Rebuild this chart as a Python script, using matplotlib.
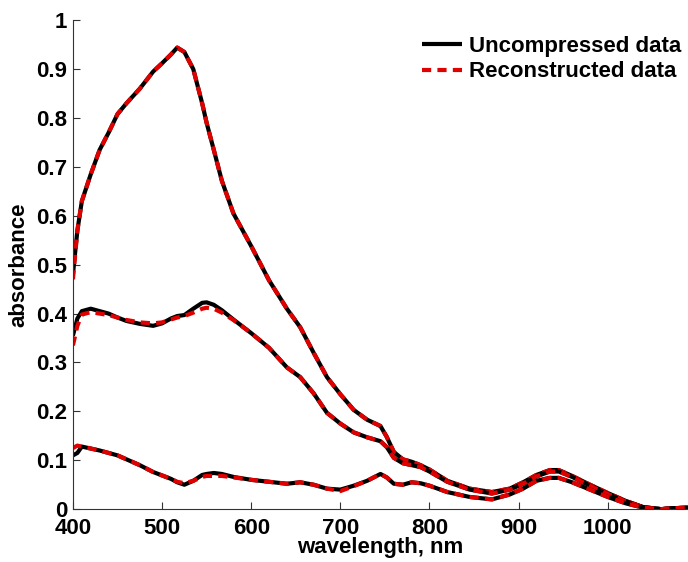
import numpy as np
import matplotlib
matplotlib.use('Agg')
import matplotlib.pyplot as plt

plt.rcParams['font.family'] = ['Liberation Sans', 'DejaVu Sans']
plt.rcParams['font.weight'] = 'bold'

# wavelength grid (nm)
wl = [400, 405, 410, 420, 430, 440, 450, 460, 475, 490, 500, 510, 517, 525,
      535, 545, 550, 558, 567, 580, 600, 620, 640, 655, 670, 685, 700, 715,
      730, 745, 752, 760, 770, 780, 790, 800, 820, 845, 870, 890, 905, 920,
      935, 945, 960, 980, 1000, 1020, 1040, 1060, 1075, 1090]

# uncompressed spectra
orig_a = [0.48, 0.57, 0.63, 0.685, 0.735, 0.77, 0.808, 0.83, 0.86, 0.895, 0.912, 0.93, 0.944, 0.935,
          0.9, 0.83, 0.79, 0.735, 0.672, 0.605, 0.538, 0.468, 0.41, 0.372, 0.32, 0.27, 0.235, 0.203,
          0.183, 0.17, 0.148, 0.117, 0.102, 0.097, 0.09, 0.081, 0.058, 0.042, 0.035, 0.042, 0.055, 0.07,
          0.08, 0.08, 0.068, 0.05, 0.033, 0.017, 0.004, 0.0, 0.002, 0.003]
orig_b = [0.355, 0.39, 0.405, 0.41, 0.405, 0.40, 0.392, 0.385, 0.379, 0.375, 0.38, 0.39, 0.395, 0.397,
          0.41, 0.422, 0.423, 0.418, 0.407, 0.388, 0.36, 0.33, 0.29, 0.27, 0.237, 0.197, 0.175, 0.157,
          0.147, 0.139, 0.127, 0.105, 0.094, 0.09, 0.086, 0.077, 0.056, 0.04, 0.032, 0.04, 0.052, 0.067,
          0.077, 0.077, 0.066, 0.048, 0.031, 0.016, 0.004, 0.0, 0.002, 0.003]
orig_c = [0.11, 0.115, 0.128, 0.124, 0.12, 0.115, 0.11, 0.102, 0.09, 0.076, 0.069, 0.062, 0.055, 0.05,
          0.058, 0.07, 0.072, 0.074, 0.072, 0.066, 0.06, 0.056, 0.052, 0.055, 0.05, 0.042, 0.04, 0.048,
          0.058, 0.072, 0.065, 0.052, 0.05, 0.055, 0.053, 0.048, 0.035, 0.025, 0.02, 0.03, 0.042, 0.058,
          0.064, 0.064, 0.055, 0.04, 0.025, 0.012, 0.003, 0.0, 0.002, 0.003]

# reconstructed spectra
rec_a = [0.47, 0.57, 0.63, 0.685, 0.735, 0.77, 0.808, 0.83, 0.86, 0.895, 0.912, 0.93, 0.944, 0.935,
         0.9, 0.83, 0.79, 0.735, 0.672, 0.605, 0.538, 0.468, 0.41, 0.372, 0.32, 0.27, 0.235, 0.203,
         0.183, 0.17, 0.148, 0.117, 0.102, 0.097, 0.09, 0.081, 0.058, 0.042, 0.035, 0.042, 0.055, 0.07,
         0.08, 0.08, 0.068, 0.05, 0.033, 0.017, 0.004, 0.0, 0.002, 0.003]
rec_b = [0.335, 0.375, 0.398, 0.403, 0.40, 0.397, 0.392, 0.387, 0.382, 0.38, 0.382, 0.388, 0.392, 0.395,
         0.402, 0.41, 0.412, 0.41, 0.402, 0.387, 0.36, 0.33, 0.29, 0.27, 0.237, 0.197, 0.175, 0.157,
         0.147, 0.139, 0.127, 0.105, 0.094, 0.09, 0.086, 0.077, 0.056, 0.04, 0.032, 0.04, 0.052, 0.067,
         0.077, 0.077, 0.066, 0.048, 0.031, 0.016, 0.004, 0.0, 0.002, 0.003]
rec_c = [0.125, 0.13, 0.128, 0.124, 0.12, 0.115, 0.11, 0.102, 0.09, 0.076, 0.069, 0.062, 0.056, 0.053,
         0.058, 0.066, 0.068, 0.068, 0.068, 0.065, 0.06, 0.056, 0.052, 0.055, 0.05, 0.042, 0.037, 0.047,
         0.058, 0.072, 0.065, 0.052, 0.05, 0.055, 0.053, 0.048, 0.035, 0.025, 0.02, 0.03, 0.042, 0.058,
         0.064, 0.064, 0.055, 0.04, 0.025, 0.012, 0.003, 0.0, 0.002, 0.003]

fig = plt.figure(figsize=(6.88, 5.62), dpi=100)
ax = fig.add_axes([0.106, 0.094, 0.894, 0.870])

for i, (o, r) in enumerate([(orig_a, rec_a), (orig_b, rec_b), (orig_c, rec_c)]):
    ax.plot(wl, o, color='black', lw=3, solid_capstyle='butt', solid_joinstyle='round',
            label='Uncompressed data' if i == 0 else None)
    ax.plot(wl, r, color='#e00000', lw=3, dashes=(2.2, 1.5), dash_capstyle='butt',
            label='Reconstructed data' if i == 0 else None)

ax.set_xlim(400, 1090)
ax.set_ylim(0, 1)
ax.set_xticks(np.arange(400, 1001, 100))
ax.set_yticks(np.arange(0, 1.01, 0.1))
ax.set_yticklabels(['0', '0.1', '0.2', '0.3', '0.4', '0.5', '0.6', '0.7', '0.8', '0.9', '1'])
ax.tick_params(direction='in', length=5, width=0.8, labelsize=16, color='#333333')
ax.tick_params(axis='x', pad=6)
ax.tick_params(axis='y', pad=4)
for lab in ax.get_xticklabels() + ax.get_yticklabels():
    lab.set_fontweight('bold')
ax.spines['top'].set_visible(False)
ax.spines['right'].set_visible(False)
ax.spines['left'].set_color('#333333')
ax.spines['bottom'].set_color('#333333')

ax.set_xlabel('wavelength, nm', fontsize=16, fontweight='bold', labelpad=-1)
ax.set_ylabel('absorbance', fontsize=16, fontweight='bold', labelpad=5)

ax.legend(loc='upper right', bbox_to_anchor=(1.003, 0.986), frameon=False,
          prop={'size': 16, 'weight': 'bold'}, handlelength=1.8,
          handletextpad=0.3, labelspacing=0.2, borderaxespad=0.0)

fig.savefig('out.png', dpi=100)
